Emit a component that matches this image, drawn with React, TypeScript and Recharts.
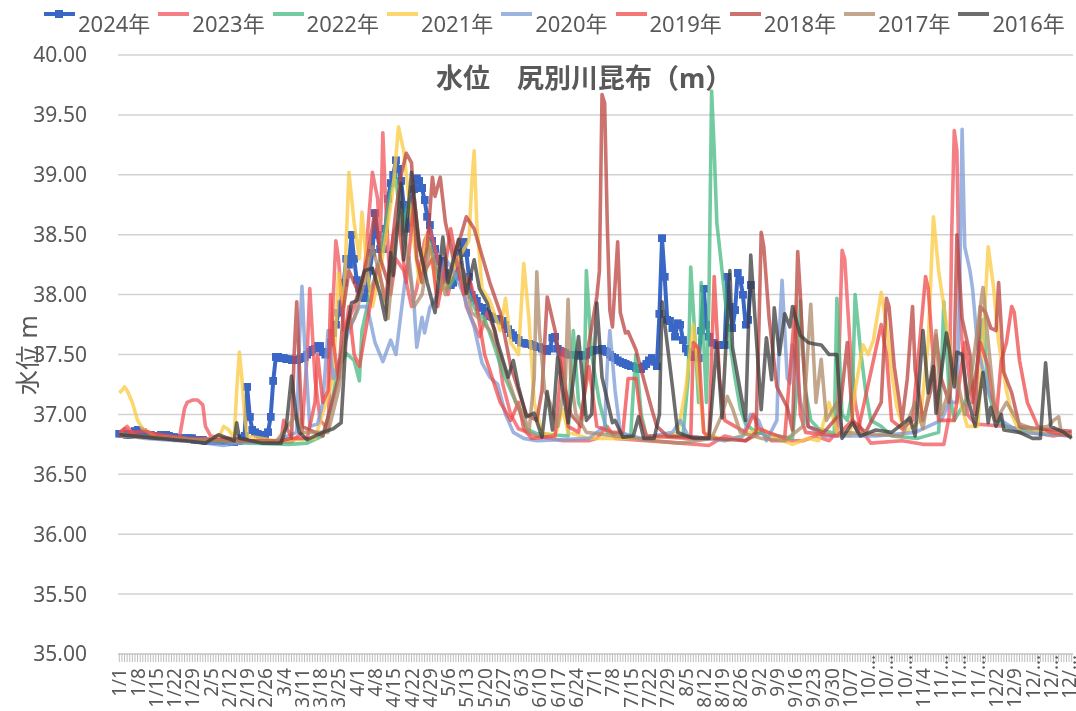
import React from "react";
import { LineChart, Line, XAxis, YAxis, CartesianGrid, Legend } from "recharts";

type P = [number, number];

const monthLengths = [31, 29, 31, 30, 31, 30, 31, 31, 30, 31, 30, 31];
const days: string[] = [];
monthLengths.forEach((n, m) => {
  for (let d = 1; d <= n; d++) days.push(`${m + 1}/${d}`);
});

const yTicks = [35, 35.5, 36, 36.5, 37, 37.5, 38, 38.5, 39, 39.5, 40];
const seriesNames = ["2024年", "2023年", "2022年", "2021年", "2020年", "2019年", "2018年", "2017年", "2016年"];
const seriesColors = ["#3a66c6", "#f0565c", "#45b981", "#fbc940", "#7d9bd6", "#ee4a48", "#bb4440", "#ad8a68", "#3c3c3c"];
const seriesKeys = ["y2024", "y2023", "y2022", "y2021", "y2020", "y2019", "y2018", "y2017", "y2016"];

const v2024 = [
  36.84,36.84,36.84,36.83,36.83,36.84,36.86,36.87,36.86,36.85,36.84,36.83,36.83,36.82,36.82,36.82,36.83,36.83,36.83,36.82,
  36.81,36.81,36.80,36.80,36.80,36.80,36.80,36.80,36.80,36.79,36.79,36.79,36.79,36.78,36.78,36.78,36.78,36.78,36.78,36.78,
  36.78,36.78,36.78,36.77,36.77,36.78,36.78,36.80,36.82,37.23,36.98,36.87,36.85,36.84,36.83,36.82,36.82,36.85,36.98,37.28,
  37.48,37.48,37.47,37.47,37.46,37.46,37.45,37.45,37.45,37.46,37.47,37.48,37.50,37.52,37.54,37.55,37.57,37.57,37.52,37.50,
  37.52,37.60,37.68,37.75,37.85,37.92,38.10,38.30,38.25,38.50,38.30,38.12,38.05,37.98,37.97,38.05,38.20,38.35,38.68,38.50,
  38.38,38.38,38.55,38.80,38.93,39.00,39.12,39.05,38.95,38.75,38.55,38.60,38.75,38.88,38.97,38.95,38.89,38.79,38.65,38.58,
  38.45,38.38,38.30,38.28,38.22,38.18,38.12,38.08,38.10,38.15,38.25,38.35,38.44,38.35,38.15,38.00,37.97,37.95,37.90,37.89,
  37.86,37.84,37.82,37.81,37.80,37.80,37.79,37.78,37.75,37.71,37.68,37.66,37.64,37.62,37.60,37.60,37.59,37.59,37.58,37.57,
  37.56,37.56,37.55,37.54,37.53,37.55,37.64,37.65,37.55,37.53,37.52,37.51,37.50,37.50,37.50,37.50,37.49,37.50,37.49,37.50,
  37.52,37.53,37.54,37.54,37.54,37.55,37.53,37.52,37.50,37.48,37.47,37.45,37.44,37.43,37.42,37.41,37.40,37.40,37.39,37.38,
  37.38,37.40,37.42,37.45,37.47,37.44,37.40,37.84,38.47,38.15,37.79,37.78,37.72,37.65,37.76,37.75,37.62,37.55,37.52,37.50,
  37.48,37.48,37.47,37.70,38.05,37.75,37.65,37.60,37.60,37.58,37.58,37.58,37.58,38.15,37.90,37.72,37.87,38.18,38.12,38.00,
  37.75,37.79,38.08,
];

const p2023: P[] = [
  [0,36.85],[3,36.9],[6,36.82],[14,36.8],[23,36.8],[25,37.05],[26,37.1],[28,37.12],[30,37.12],[32,37.08],[33,36.9],[35,36.82],[50,36.78],[66,36.77],
  [70,36.85],[72,37.5],[73,38.05],[75,37.3],[77,36.95],[80,36.88],[81,37.5],[83,38.45],[84,38.3],[86,37.7],[88,37.8],[90,37.9],[94,38.2],[97,39.02],[99,38.8],[100,38.4],
  [101,39.35],[102,38.8],[104,38.0],[106,38.3],[109,38.2],[112,37.9],[114,38.05],[117,38.45],[119,38.55],[122,38.3],[126,38.0],[128,38.2],[130,38.3],[133,37.9],[136,37.75],
  [138,37.65],[141,37.85],[144,37.7],[147,37.25],[150,37.0],[153,36.88],[160,36.82],[170,36.78],[180,36.78],[183,36.8],[187,36.9],[190,36.8],[215,36.76],[226,36.74],
  [232,36.82],[240,36.78],[246,36.85],[250,36.78],[262,36.78],[267,36.82],[272,36.78],[275,36.85],[277,38.37],[278,38.3],[280,37.6],[282,37.1],[284,36.88],[288,36.76],
  [300,36.78],[308,36.75],[316,36.75],[318,36.98],[319,38.5],[320,39.37],[321,39.2],[322,37.9],[325,37.0],[328,36.92],[340,36.9],[350,36.85],[358,36.82],[365,36.85],
];

const p2022: P[] = [
  [0,36.84],[8,36.82],[30,36.79],[50,36.76],[65,36.75],[72,36.76],[78,36.82],[81,37.05],[84,37.4],[87,37.51],[90,37.45],[92,37.28],[93,37.7],[96,38.0],[100,38.3],
  [104,38.86],[106,39.0],[108,38.5],[111,38.79],[113,38.6],[116,38.3],[119,38.43],[122,38.15],[126,38.05],[130,38.2],[134,38.0],[137,37.85],[140,37.8],[144,37.55],
  [147,37.35],[150,37.2],[153,37.05],[156,36.88],[160,36.84],[172,36.82],[173,37.3],[174,37.7],[176,37.1],[178,37.0],[179,38.2],[181,37.5],[184,37.1],[187,36.85],
  [196,36.82],[197,37.2],[198,37.5],[200,37.0],[202,36.82],[216,36.82],[218,37.3],[219,38.23],[221,37.5],[222,37.1],[223,38.1],[225,37.1],[226,38.0],[227,39.7],[228,39.2],
  [229,38.6],[232,38.0],[234,37.6],[236,37.3],[238,37.05],[240,36.92],[244,36.85],[258,36.8],[260,37.3],[261,37.95],[263,37.2],[265,36.95],[268,36.88],[274,36.84],
  [275,37.97],[277,37.0],[279,36.95],[281,37.2],[282,38.0],[284,37.55],[286,37.2],[288,36.95],[292,36.9],[296,36.82],[306,36.8],[314,36.85],[315,37.3],[316,37.94],
  [318,37.2],[320,36.95],[324,37.1],[328,37.3],[331,37.79],[333,37.2],[336,36.95],[340,36.9],[350,36.85],[365,36.82],
];

const p2021: P[] = [
  [0,37.18],[1,37.2],[2,37.23],[3,37.2],[5,37.1],[7,36.95],[9,36.88],[14,36.82],[30,36.79],[38,36.8],[40,36.9],[42,36.87],[44,36.8],[45,37.2],[46,37.52],[47,37.3],
  [48,37.0],[49,36.82],[60,36.78],[75,36.8],[82,37.3],[84,38.18],[86,37.9],[88,39.02],[90,38.6],[92,38.3],[93,38.69],[95,38.2],[97,37.9],[100,38.2],[103,38.6],[105,38.9],
  [107,39.4],[109,39.2],[112,38.6],[115,38.1],[118,38.5],[122,38.0],[126,38.1],[130,38.3],[134,38.45],[135,38.9],[136,39.2],[137,38.6],[139,38.05],[142,37.95],[146,37.7],
  [148,37.97],[150,37.6],[153,37.5],[155,38.26],[157,37.8],[159,37.1],[162,36.85],[167,36.82],[170,37.04],[172,36.85],[180,36.8],[205,36.8],[214,36.85],[217,37.2],
  [220,37.75],[222,37.3],[224,36.85],[232,36.78],[238,36.82],[246,36.88],[252,36.8],[258,36.75],[264,36.8],[268,36.78],[272,37.1],[275,36.85],[280,36.82],[282,37.2],
  [285,37.58],[287,37.5],[289,37.62],[292,38.02],[294,37.75],[296,37.35],[298,37.06],[301,36.85],[307,36.95],[310,37.6],[312,38.65],[314,38.2],[316,37.9],[318,37.6],
  [320,37.3],[323,37.05],[325,36.9],[329,36.9],[331,37.6],[333,38.4],[335,38.07],[337,37.6],[340,37.2],[342,37.0],[345,36.85],[355,36.85],[365,36.82],
];

const p2020: P[] = [
  [0,36.83],[10,36.8],[30,36.77],[40,36.74],[45,36.76],[60,36.78],[68,36.85],[69,37.6],[70,38.07],[71,37.6],[73,36.9],[76,36.92],[78,37.1],[80,37.7],[82,37.3],[85,37.5],
  [88,37.7],[92,37.9],[95,37.9],[98,37.6],[101,37.44],[104,37.62],[106,37.5],[108,37.85],[110,38.2],[111,38.31],[113,37.9],[114,37.56],[116,37.81],[117,37.68],[119,37.89],
  [122,38.0],[125,38.3],[128,38.2],[132,38.0],[134,37.85],[136,37.73],[139,37.43],[142,37.31],[145,37.25],[148,37.0],[151,36.85],[155,36.8],[160,36.78],[180,36.8],
  [186,36.9],[187,37.4],[188,37.7],[190,37.2],[192,36.85],[200,36.8],[212,36.85],[215,36.95],[218,36.82],[232,36.78],[239,36.82],[242,37.0],[245,36.95],[248,36.78],
  [252,36.95],[253,37.7],[254,38.12],[256,37.3],[257,37.26],[258,37.58],[259,37.5],[261,37.1],[264,36.9],[270,36.82],[290,36.82],[305,36.85],[315,36.95],[318,37.1],
  [321,37.1],[322,38.0],[323,39.38],[324,38.4],[326,38.2],[327,38.05],[329,37.55],[333,37.2],[338,36.95],[345,36.85],[365,36.82],
];

const p2019: P[] = [
  [0,36.82],[2,36.88],[4,36.85],[10,36.86],[13,36.84],[25,36.8],[45,36.78],[55,36.78],[62,36.78],[63,36.95],[66,36.8],[72,36.8],[75,37.1],[76,37.5],[78,37.1],[80,37.2],
  [81,38.0],[82,37.6],[84,37.3],[86,37.6],[88,37.9],[90,37.5],[92,37.4],[96,37.9],[99,38.25],[102,37.95],[105,38.5],[107,38.6],[110,38.1],[113,38.8],[115,38.4],[117,38.2],
  [120,38.3],[122,37.9],[125,38.25],[127,38.55],[129,38.3],[132,38.0],[134,38.15],[137,37.9],[140,37.5],[143,37.3],[146,37.1],[150,36.95],[153,37.1],[155,36.88],[158,36.8],
  [167,36.82],[170,37.55],[172,36.9],[176,36.85],[180,37.4],[183,36.9],[189,36.85],[193,36.85],[195,37.3],[198,37.3],[200,36.95],[202,36.82],[219,36.8],[220,37.6],[222,37.55],
  [224,36.85],[226,36.8],[228,38.15],[230,37.3],[232,36.95],[240,36.85],[243,37.0],[245,36.88],[255,36.8],[259,37.9],[261,37.0],[263,36.85],[275,36.82],[281,36.95],[283,36.85],
  [292,37.75],[294,37.5],[296,36.95],[300,36.88],[304,36.95],[309,38.15],[310,38.05],[312,37.45],[314,36.95],[320,36.95],[324,37.6],[327,37.1],[330,37.6],[333,37.4],[336,36.95],
  [338,37.45],[340,37.6],[342,37.9],[343,37.85],[345,37.45],[348,37.1],[350,37.0],[352,36.9],[357,36.85],[365,36.82],
];

const p2018: P[] = [
  [0,36.83],[20,36.8],[45,36.78],[60,36.77],[66,36.8],[67,37.5],[68,37.94],[69,37.4],[70,36.9],[78,36.82],[84,37.3],[86,37.9],[88,38.2],[90,38.1],[92,38.0],[95,38.3],[98,38.7],
  [100,38.3],[103,38.1],[106,38.7],[108,39.0],[110,39.18],[112,39.1],[114,38.3],[116,38.1],[118,38.4],[120,38.98],[121,38.82],[123,38.98],[125,38.6],[128,38.3],[131,38.5],
  [133,38.65],[136,38.55],[138,38.4],[142,38.1],[146,37.85],[150,37.4],[153,37.2],[156,37.0],[160,36.95],[162,37.2],[164,37.98],[167,37.7],[170,37.3],[173,37.0],[177,36.9],
  [180,37.6],[183,37.98],[184,38.2],[185,39.67],[186,39.6],[187,38.6],[188,37.87],[189,37.73],[191,38.44],[192,37.85],[194,37.68],[195,37.69],[198,37.54],[201,37.29],[204,37.05],
  [206,36.9],[210,36.82],[228,36.8],[240,36.78],[244,36.85],[245,37.6],[246,38.52],[247,38.4],[249,37.81],[252,37.23],[256,37.06],[258,36.87],[259,37.6],[260,38.36],[261,38.0],
  [262,37.5],[264,36.9],[270,36.85],[276,37.0],[279,37.6],[281,36.95],[286,36.85],[292,37.1],[294,37.97],[295,37.9],[297,37.4],[300,36.95],[302,37.3],[304,37.9],[305,37.37],
  [308,36.95],[311,37.2],[313,37.66],[315,37.3],[318,37.1],[320,37.5],[321,38.5],[323,37.8],[326,37.5],[328,37.0],[330,37.9],[332,37.85],[334,37.72],[336,37.7],[337,38.1],
  [339,37.35],[342,37.18],[345,36.9],[352,36.88],[365,36.86],
];

const p2017: P[] = [
  [0,36.82],[40,36.78],[60,36.77],[68,37.0],[70,36.85],[80,36.85],[84,37.2],[87,37.7],[90,37.8],[94,38.1],[97,38.4],[100,38.15],[103,37.8],[106,38.5],[108,38.7],[110,38.4],
  [113,37.9],[116,38.0],[119,38.4],[122,38.2],[125,38.0],[128,38.3],[132,38.2],[135,37.85],[138,37.8],[142,37.7],[146,37.5],[149,37.3],[152,37.1],[155,37.0],[157,36.85],
  [159,37.3],[160,38.19],[161,37.7],[163,37.2],[165,37.1],[168,36.9],[171,37.3],[172,37.96],[173,37.3],[175,37.0],[179,36.85],[190,36.82],[205,36.78],[215,36.76],[227,36.8],
  [231,37.0],[233,37.15],[235,37.05],[238,36.85],[246,36.8],[255,36.78],[262,36.9],[265,37.92],[267,37.1],[269,37.46],[271,36.95],[275,37.1],[277,36.85],[300,36.82],[305,37.1],
  [308,36.88],[311,37.3],[313,37.7],[315,37.0],[318,37.2],[320,37.4],[324,37.0],[327,37.4],[330,37.9],[331,38.06],[333,37.6],[336,36.95],[340,37.1],[345,36.92],[350,36.88],
  [356,36.9],[358,36.95],[360,36.98],[361,36.85],[365,36.82],
];

const p2016: P[] = [
  [0,36.83],[15,36.8],[25,36.78],[33,36.76],[38,36.83],[44,36.78],[45,36.93],[46,36.8],[55,36.76],[62,36.76],[64,36.9],[66,37.32],[68,36.95],[69,36.85],[72,36.79],[78,36.85],
  [82,36.88],[85,36.93],[87,37.68],[89,37.93],[91,37.95],[94,38.2],[97,38.22],[100,38.0],[102,37.79],[104,38.35],[105,38.16],[108,38.93],[109,38.29],[112,39.02],[115,38.4],
  [118,38.1],[121,37.85],[124,38.48],[126,38.1],[130,38.46],[133,38.01],[136,38.29],[138,38.05],[141,37.93],[145,37.6],[149,37.31],[151,37.45],[153,37.23],[156,36.98],[159,37.01],
  [162,36.81],[164,37.19],[166,36.87],[168,37.48],[170,37.19],[172,36.93],[176,37.65],[179,36.95],[181,37.0],[183,37.93],[185,37.31],[189,36.93],[190,36.95],[193,36.81],[197,36.82],
  [199,36.98],[201,36.8],[205,36.8],[207,37.0],[208,37.94],[212,37.23],[214,36.85],[220,36.8],[226,36.8],[229,37.6],[231,36.97],[234,38.2],[235,37.56],[240,36.95],[242,38.33],
  [246,37.04],[248,37.64],[250,37.29],[251,37.89],[253,37.5],[255,37.84],[257,37.73],[258,37.9],[261,37.66],[264,37.6],[266,37.59],[269,37.58],[272,37.5],[275,37.5],[277,36.8],
  [281,36.93],[284,36.82],[290,36.87],[296,36.85],[303,36.97],[305,36.82],[308,37.7],[310,37.18],[312,37.4],[313,37.01],[317,37.68],[318,37.56],[320,37.23],[321,37.52],[323,37.5],
  [325,37.15],[328,36.9],[331,37.35],[333,36.93],[334,37.06],[336,36.9],[338,37.0],[339,36.87],[345,36.85],[350,36.8],[353,36.8],[355,37.43],[357,36.9],[362,36.85],[365,36.8],
];

const rows = days.map((day, i) => {
  const row: Record<string, number | string | null> = { day, y2024: i < v2024.length ? v2024[i] : null };
  const sources: [string, P[]][] = [
    ["y2023", p2023], ["y2022", p2022], ["y2021", p2021], ["y2020", p2020],
    ["y2019", p2019], ["y2018", p2018], ["y2017", p2017], ["y2016", p2016],
  ];
  sources.forEach(([k, pts]) => {
    const hit = pts.find((p) => p[0] === i);
    row[k] = hit ? hit[1] : null;
  });
  return row;
});

const FONT = '"Noto Sans", "Noto Sans CJK JP", sans-serif';
const TEXT = "#595959";

function DayTick(props: any) {
  const { x, payload, index } = props;
  if (index % 7 !== 0) return <g />;
  const s: string = payload.value;
  const long = s.length >= 5;
  const label = long ? s.slice(0, 3) + "…" : s;
  const anchorY = long ? 655 : 668;
  return (
    <text
      x={x}
      y={anchorY}
      transform={`rotate(-90 ${x} ${anchorY})`}
      textAnchor="end"
      dominantBaseline="central"
      fontSize={19}
      fontFamily={FONT}
      fill={TEXT}
    >
      {label}
    </text>
  );
}

function LegendBox() {
  return (
    <div style={{ position: "relative", width: 1076, height: 40, fontFamily: FONT, color: TEXT, fontSize: 22 }}>
      {seriesNames.map((name, i) => {
        const left = 44 + i * 114.3;
        return (
          <React.Fragment key={name}>
            <div
              style={{
                position: "absolute",
                left,
                top: 12,
                width: 31,
                height: 4,
                background: seriesColors[i],
                opacity: i === 0 ? 1 : 0.75,
              }}
            />
            {i === 0 && (
              <div style={{ position: "absolute", left: left + 11, top: 10, width: 8, height: 8, background: seriesColors[0] }} />
            )}
            <div style={{ position: "absolute", left: left + 34, top: 8, lineHeight: "30px", whiteSpace: "nowrap" }}>{name}</div>
          </React.Fragment>
        );
      })}
    </div>
  );
}

export default function App() {
  return (
    <div style={{ position: "absolute", left: 0, top: 0, width: 1076, height: 711, background: "#fff", filter: "blur(0.7px)" }}>
      <LineChart
        width={1076}
        height={711}
        data={rows}
        margin={{ top: 55, right: 3, bottom: 0, left: 0 }}
      >
        <defs>
          <marker id="sq2024" markerWidth={8} markerHeight={8} refX={4} refY={4} markerUnits="userSpaceOnUse">
            <rect x={0} y={0} width={8} height={8} fill="#3a66c6" />
          </marker>
        </defs>
        <CartesianGrid horizontal vertical={false} stroke="#d2d2d2" strokeWidth={1.5} />
        <XAxis
          dataKey="day"
          interval={0}
          height={57}
          padding={{ left: 1.3, right: 1.3 }}
          axisLine={{ stroke: "#c8c8c8" }}
          tickLine={{ stroke: "#bdbdbd", strokeWidth: 1 }}
          tickSize={8}
          tick={<DayTick />}
        />
        <YAxis
          width={118}
          domain={[35, 40]}
          ticks={yTicks}
          allowDataOverflow
          axisLine={false}
          tickLine={false}
          tickSize={0}
          tickMargin={31}
          tickFormatter={(v: number) => v.toFixed(2)}
          tick={{ fontSize: 21, fontFamily: FONT, fill: TEXT }}
        />
        <Legend
          layout="horizontal"
          verticalAlign="middle"
          align="center"
          wrapperStyle={{ position: "absolute", top: 0, left: 0, width: 1076, height: 40 }}
          content={<LegendBox />}
        />
        {seriesKeys.map((k, i) => {
          const markerProps: any = i === 0 ? { markerStart: "url(#sq2024)", markerMid: "url(#sq2024)", markerEnd: "url(#sq2024)" } : {};
          return (
            <Line
              key={k}
              dataKey={k}
              name={seriesNames[i]}
              type="linear"
              connectNulls={i !== 0}
              stroke={seriesColors[i]}
              strokeWidth={i === 0 ? 4 : 3.6}
              strokeOpacity={i === 0 ? 1 : 0.75}
              strokeLinejoin="round"
              dot={false}
              activeDot={false}
              isAnimationActive={false}
              {...markerProps}
            />
          );
        })}
        <text x={436} y={88} textAnchor="start" fontSize={27} fontWeight={700} fontFamily={FONT} fill={TEXT}>
          水位　尻別川昆布（m）
        </text>
        <text x={37} y={355} transform="rotate(-90 37 355)" textAnchor="middle" fontSize={25} fontFamily={FONT} fill={TEXT}>
          水位 m
        </text>
      </LineChart>
    </div>
  );
}
